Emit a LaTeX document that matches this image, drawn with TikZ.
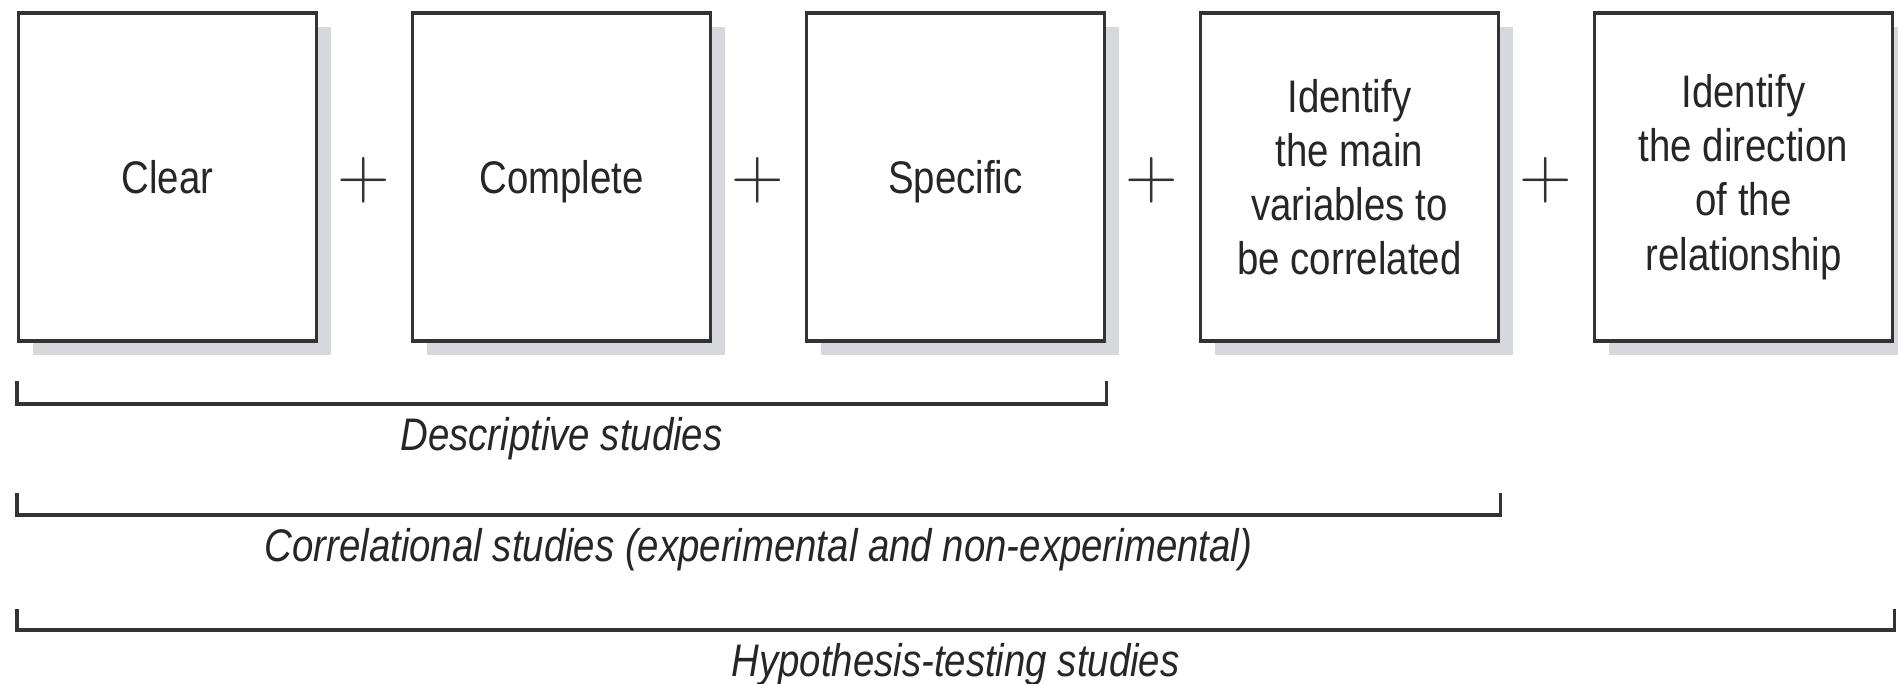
\documentclass[tikz,border=0pt]{standalone}
\usepackage[no-math]{fontspec}
\setmainfont{Liberation Sans}[FakeStretch=0.84]
\usepackage{xcolor}
\definecolor{vizLine}{HTML}{333333}
\definecolor{vizShadow}{HTML}{D7D8DE}
\definecolor{vizText}{HTML}{262626}
\usetikzlibrary{shadows}

\begin{document}
\begin{tikzpicture}[
  studybox/.style={rectangle, draw=vizLine, line width=1.1pt, fill=white,
    minimum width=2.98cm, minimum height=3.28cm, align=center, text=vizText,
    font=\fontsize{13pt}{15.4pt}\selectfont,
    drop shadow={shadow xshift=0.14cm, shadow yshift=-0.14cm, fill=vizShadow, opacity=1}},
  wordbox/.style={studybox, text depth=0pt},
  plussign/.style={text=vizLine, inner sep=0pt, font=\fontsize{21pt}{21pt}\selectfont},
  span/.style={draw=vizLine, line width=1.1pt},
  spanlabel/.style={text=vizText, font=\fontsize{13pt}{15.4pt}\selectfont\itshape,
    anchor=base, yshift=-0.47cm}
]
  \useasboundingbox (0,0) rectangle (18.98,-6.84);
  \node[wordbox] (clear) at (1.675,-1.77) {Clear};
  \node[wordbox] (complete) at (5.615,-1.77) {Complete};
  \node[wordbox] (specific) at (9.555,-1.77) {Specific};
  \node[studybox] (variables) at (13.495,-1.77) {Identify\\the main\\variables to\\be correlated};
  \node[studybox] (direction) at (17.435,-1.77) {Identify\\the direction\\of the\\relationship};
  \node[plussign] (plusA) at (3.635,-1.80) {$+$};
  \node[plussign] (plusB) at (7.575,-1.80) {$+$};
  \node[plussign] (plusC) at (11.515,-1.80) {$+$};
  \node[plussign] (plusD) at (15.455,-1.80) {$+$};
  \draw[span] ([yshift=-0.38cm]clear.south west) -- ++(0,-0.23)
    -| node[pos=0.25, spanlabel] (descriptive) {Descriptive studies} ([yshift=-0.38cm]specific.south east);
  \draw[span] ([yshift=-1.50cm]clear.south west) -- ++(0,-0.22)
    -| node[pos=0.25, spanlabel] (correlational) {Correlational studies (experimental and non-experimental)} ([yshift=-1.50cm]variables.south east);
  \draw[span] ([yshift=-2.66cm]clear.south west) -- ++(0,-0.21)
    -| node[pos=0.25, spanlabel] (hypothesis) {Hypothesis-testing studies} ([yshift=-2.66cm]direction.south east);
\end{tikzpicture}
\end{document}
